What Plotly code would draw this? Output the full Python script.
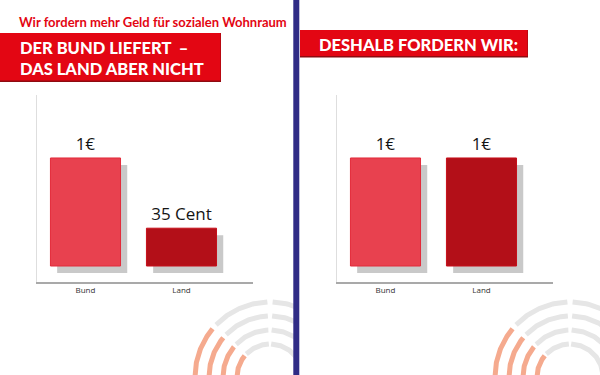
import numpy as np
import plotly.graph_objects as go

W, H = 600, 375

# ---- data ----
categories = ["Bund", "Land"]
values_left = [1.0, 0.35]
labels_left = ["1€", "35 Cent"]
values_right = [1.0, 1.0]
labels_right = ["1€", "1€"]
bar_colors = ["#e8414f", "#b30f18"]
bar_lines = ["#e32a3a", "#c70f1a"]

subtitle = "Wir fordern mehr Geld für sozialen Wohnraum"
banner_left = ["DER BUND LIEFERT\u00a0\u00a0–", "DAS LAND ABER NICHT"]
banner_right = "DESHALB FORDERN WIR:"

def px(x):
    return x / W

def py(y):
    return 1 - y / H

fig = go.Figure()

BW = 0.73
SH_DX = 0.07
SH_DY = 0.065

def add_chart(xa, ya, vals, labels):
    fig.add_trace(go.Bar(
        x=categories, y=vals, base=-SH_DY, width=BW, offset=-BW / 2 + SH_DX,
        marker=dict(color="#c9c9c9", line=dict(width=0)),
        xaxis=xa, yaxis=ya, hoverinfo="skip", showlegend=False))
    fig.add_trace(go.Bar(
        x=categories, y=vals, base=0, width=BW, offset=-BW / 2,
        marker=dict(color=bar_colors, line=dict(color=bar_lines, width=1)),
        text=labels, textposition="outside", cliponaxis=False,
        textfont=dict(family="Open Sans", size=17, color="#151515"),
        xaxis=xa, yaxis=ya, hoverinfo="skip", showlegend=False))

add_chart("x", "y", values_left, labels_left)
add_chart("x2", "y2", values_right, labels_right)

# decorative arcs (pixel-space overlay axes)
def add_arcs(xa, ya, cx, cy):
    radii = [75, 61, 47, 33]
    segs = [(180, 140, "#f5aa8e"), (136, 92, "#e6e6e6"), (88, 0, "#e6e6e6")]
    for r in radii:
        for a0, a1, col in segs:
            t = np.radians(np.linspace(a0, a1, 60))
            fig.add_trace(go.Scatter(
                x=cx + r * np.cos(t), y=cy - r * np.sin(t), mode="lines",
                line=dict(color=col, width=5), xaxis=xa, yaxis=ya,
                hoverinfo="skip", showlegend=False))

add_arcs("x3", "y3", 270, 377)
add_arcs("x4", "y4", 570, 377)

axis_common = dict(showgrid=False, zeroline=False, fixedrange=True)
yr = [-0.148, 1.583]
xr = [-0.505, 1.745]

fig.update_layout(
    width=W, height=H, margin=dict(l=0, r=0, t=0, b=0),
    paper_bgcolor="white", plot_bgcolor="rgba(0,0,0,0)",
    barmode="overlay", showlegend=False,
    xaxis=dict(domain=[px(37), px(253)], range=xr, anchor="y", showline=True,
               linecolor="#a9a9a9", linewidth=1.5, ticks="",
               tickfont=dict(family="Open Sans", size=8, color="#333"), **axis_common),
    yaxis=dict(domain=[py(282), py(95)], range=yr, anchor="x", showline=True,
               linecolor="#dedede", linewidth=1, showticklabels=False, **axis_common),
    xaxis2=dict(domain=[px(337), px(553)], range=xr, anchor="y2", showline=True,
                linecolor="#a9a9a9", linewidth=1.5, ticks="",
                tickfont=dict(family="Open Sans", size=8, color="#333"), **axis_common),
    yaxis2=dict(domain=[py(282), py(95)], range=yr, anchor="x2", showline=True,
                linecolor="#dedede", linewidth=1, showticklabels=False, **axis_common),
    xaxis3=dict(domain=[0, px(296)], range=[0, 296], visible=False, anchor="y3", **axis_common),
    yaxis3=dict(domain=[0, 1], range=[375, 0], visible=False, anchor="x3", **axis_common),
    xaxis4=dict(domain=[px(296), 1], range=[296, 600], visible=False, anchor="y4", **axis_common),
    yaxis4=dict(domain=[0, 1], range=[375, 0], visible=False, anchor="x4", **axis_common),
)

shapes = []
# left banner
shapes.append(dict(type="rect", xref="paper", yref="paper", x0=px(0), x1=px(221),
                   y0=py(82), y1=py(33), fillcolor="#8e0b10", line=dict(width=0)))
shapes.append(dict(type="rect", xref="paper", yref="paper", x0=px(0), x1=px(220.5),
                   y0=py(80.5), y1=py(33), fillcolor="#e30613", line=dict(width=0)))
# right banner
shapes.append(dict(type="rect", xref="paper", yref="paper", x0=px(300), x1=px(528),
                   y0=py(57.5), y1=py(30), fillcolor="#8e0b10", line=dict(width=0)))
shapes.append(dict(type="rect", xref="paper", yref="paper", x0=px(300), x1=px(527.5),
                   y0=py(56), y1=py(30), fillcolor="#e30613", line=dict(width=0)))
# divider
shapes.append(dict(type="rect", xref="paper", yref="paper", x0=px(293.3), x1=px(299.3),
                   y0=0, y1=1, fillcolor="#302c86", line=dict(width=0), layer="above"))
fig.update_layout(shapes=shapes)

ann = []
ann.append(dict(text=subtitle, xref="paper", yref="paper", x=px(17), y=py(22),
                xanchor="left", yanchor="middle", showarrow=False,
                font=dict(family="Lato", size=13, color="#e30613", weight=700)))
ann.append(dict(text=banner_left[0], xref="paper", yref="paper", x=px(18), y=py(48),
                xanchor="left", yanchor="middle", showarrow=False,
                font=dict(family="Lato", size=16.5, color="white", weight=900)))
ann.append(dict(text=banner_left[1], xref="paper", yref="paper", x=px(18), y=py(69),
                xanchor="left", yanchor="middle", showarrow=False,
                font=dict(family="Lato", size=16.5, color="white", weight=900)))
ann.append(dict(text=banner_right, xref="paper", yref="paper", x=px(317), y=py(44.5),
                xanchor="left", yanchor="middle", showarrow=False,
                font=dict(family="Lato", size=16.5, color="white", weight=900)))
fig.update_layout(annotations=ann)

fig.write_html("out.html", config={"displayModeBar": False},
               post_script="document.body.style.margin='0';")
